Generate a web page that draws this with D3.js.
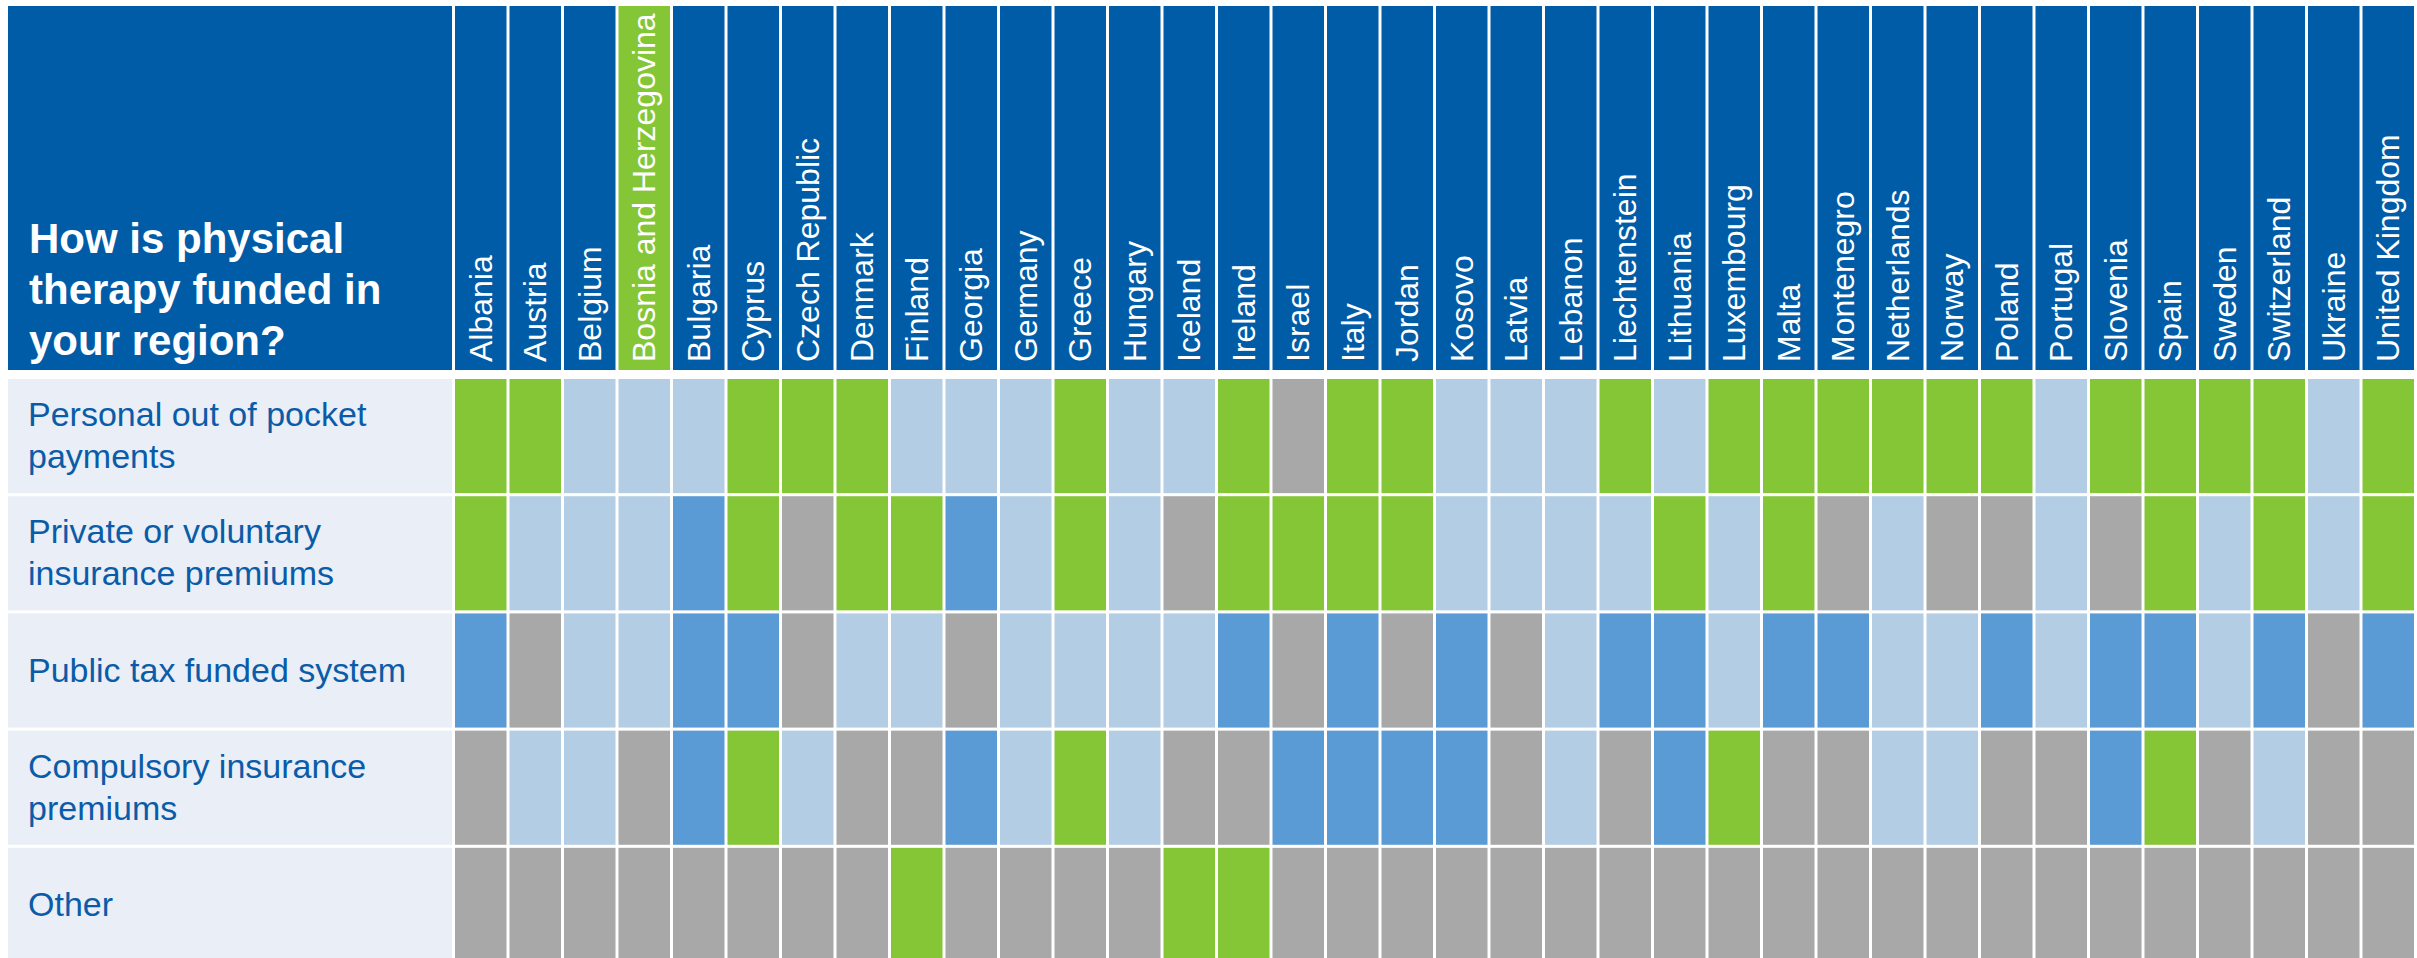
<!DOCTYPE html>
<html>
  <head>
    <meta charset="utf-8" />
    <title>How is physical therapy funded</title>
    <script src="https://d3js.org/d3.v7.min.js"></script>
    <style>
      body { margin: 0; background: #fff; }
      text { font-family: "Liberation Sans", Arial, sans-serif; }
    </style>
  </head>
  <body>
    <div id="chart"></div>

    <script>
      // Countries across the top
      const countries = [
        "Albania", "Austria", "Belgium", "Bosnia and Herzegovina", "Bulgaria",
        "Cyprus", "Czech Republic", "Denmark", "Finland", "Georgia", "Germany",
        "Greece", "Hungary", "Iceland", "Ireland", "Israel", "Italy", "Jordan",
        "Kosovo", "Latvia", "Lebanon", "Liechtenstein", "Lithuania", "Luxembourg",
        "Malta", "Montenegro", "Netherlands", "Norway", "Poland", "Portugal",
        "Slovenia", "Spain", "Sweden", "Switzerland", "Ukraine", "United Kingdom"
      ];
      const highlighted = ["Bosnia and Herzegovina"];

      // Funding types down the side (each split into display lines)
      const fundingTypes = [
        ["Personal out of pocket", "payments"],
        ["Private or voluntary", "insurance premiums"],
        ["Public tax funded system"],
        ["Compulsory insurance", "premiums"],
        ["Other"]
      ];
      const titleLines = ["How is physical", "therapy funded in", "your region?"];

      // Cell codes, one letter per country: G green, B blue, L light blue, X grey
      const personal   = "GGLLLGGGLLLGLLGXGGLLLGLGGGGGGLGGGGLG";
      const privateIns = "GLLLBGXGGBLGLXGGGGLLLLGLGXLXXLXGLGLG";
      const publicTax  = "BXLLBBXLLXLLLLBXBXBXLBBLBBLLBLBBLBXB";
      const compulsory = "XLLXBGLXXBLGLXXBBBBXLXBGXXLLXXBGXLXX";
      const other      = "XXXXXXXXGXXXXGGXXXXXXXXXXXXXXXXXXXXX";
      const rows = [personal, privateIns, publicTax, compulsory, other];

      const W = 2417, H = 958;
      const headerTop = 6, headerBottom = 370;
      const labelLeft = 8, labelRight = 452;

      const svg = d3.select("#chart").append("svg")
        .attr("width", W).attr("height", H);

      const x = d3.scaleBand().domain(countries).range([455, 2414]).paddingInner(0.055);
      const y = d3.scaleBand().domain(d3.range(rows.length)).range([379, 962]).paddingInner(0.026);
      const color = d3.scaleOrdinal()
        .domain(["G", "B", "L", "X"])
        .range(["#84c636", "#5b9bd5", "#b3cee4", "#a8a8a8"]);

      const headBlue = "#005ca7";

      // header: title block
      svg.append("rect")
        .attr("x", labelLeft).attr("y", headerTop)
        .attr("width", labelRight - labelLeft).attr("height", headerBottom - headerTop)
        .attr("fill", headBlue);

      svg.append("g").selectAll("text").data(titleLines).join("text")
        .attr("x", 29)
        .attr("y", (d, i) => 253 + i * 51)
        .attr("fill", "#fff")
        .attr("font-size", 42)
        .attr("font-weight", "bold")
        .text(d => d);

      // header: country columns
      const head = svg.append("g").selectAll("g").data(countries).join("g");
      head.append("rect")
        .attr("x", d => x(d)).attr("y", headerTop)
        .attr("width", x.bandwidth()).attr("height", headerBottom - headerTop)
        .attr("fill", d => highlighted.includes(d) ? "#84c636" : headBlue);
      head.append("text")
        .attr("transform", d => `translate(${x(d) + x.bandwidth() / 2 + 11},${headerBottom - 8}) rotate(-90)`)
        .attr("fill", "#fff")
        .attr("font-size", 32)
        .text(d => d);

      // row labels
      const rowLab = svg.append("g").selectAll("g").data(fundingTypes).join("g");
      rowLab.append("rect")
        .attr("x", labelLeft).attr("y", (d, i) => y(i))
        .attr("width", labelRight - labelLeft).attr("height", y.bandwidth())
        .attr("fill", "#e9eef7");
      rowLab.append("text")
        .attr("fill", "#0b5ca8")
        .attr("font-size", 34)
        .selectAll("tspan").data((d, i) => d.map((t, j) => ({ t, j, n: d.length, i }))).join("tspan")
        .attr("x", 28)
        .attr("y", d => y(d.i) + y.bandwidth() / 2 + 11 + (d.j - (d.n - 1) / 2) * 42)
        .text(d => d.t);

      // cells
      const cells = [];
      rows.forEach((codes, r) => {
        countries.forEach((c, k) => cells.push({ r, c, v: codes[k] }));
      });
      svg.append("g").selectAll("rect").data(cells).join("rect")
        .attr("x", d => x(d.c)).attr("y", d => y(d.r))
        .attr("width", x.bandwidth()).attr("height", y.bandwidth())
        .attr("fill", d => color(d.v));
    </script>
  </body>
</html>
